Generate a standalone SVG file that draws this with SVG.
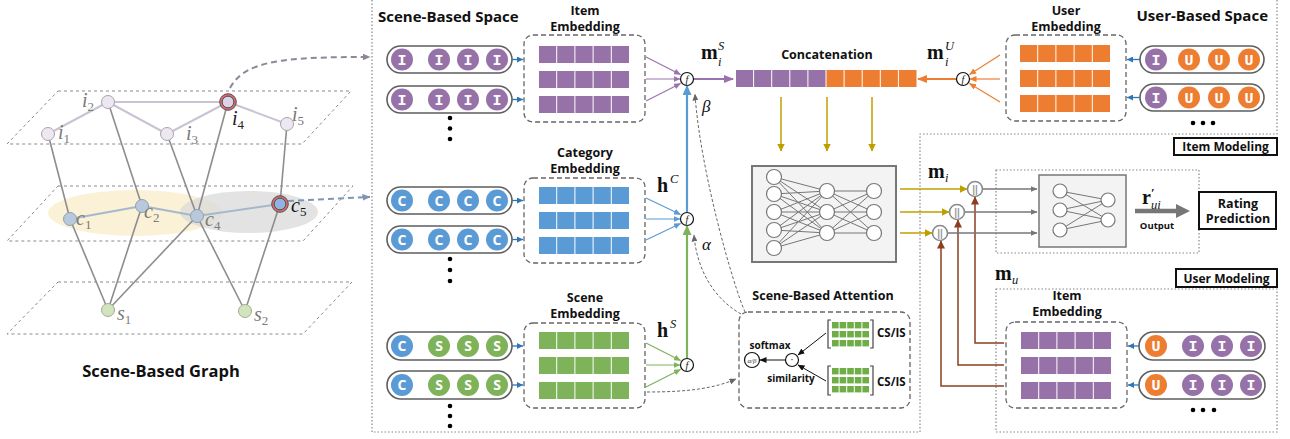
<svg xmlns="http://www.w3.org/2000/svg" xmlns:xlink="http://www.w3.org/1999/xlink" width="1290" height="439" viewBox="0 0 1290 439">
<style>
.bt{font-family:"Open Sans","Noto Sans",sans-serif;font-weight:700;fill:#111}
.t13{font-size:12.5px;text-anchor:middle}
.tk{font-family:"Liberation Mono","DejaVu Sans Mono",monospace;font-weight:700;font-size:15px;fill:#fff;text-anchor:middle}
.tks{font-family:"Open Sans","Noto Sans",sans-serif;font-weight:700;font-size:14px;fill:#fff;text-anchor:middle}
.math{font-family:"Liberation Serif","DejaVu Serif",serif}
.mb{font-family:"Liberation Serif","DejaVu Serif",serif;font-weight:700;font-size:20px;fill:#111}
.mi{font-family:"Liberation Serif","DejaVu Serif",serif;font-style:italic;font-size:12.5px;fill:#111}
.gl{font-family:"Liberation Serif","DejaVu Serif",serif;font-style:italic;font-size:20px;fill:#7a7a7a}
.gs{font-size:13px;font-style:normal}
.pill{fill:#fff;stroke:#5e5e5e;stroke-width:1.6}
.emb{fill:#fff;stroke:#666;stroke-width:1.3;stroke-dasharray:5,3}
.fc{fill:#fff;stroke:#111;stroke-width:1.2}
.fx{font-family:"Liberation Serif",serif;font-style:italic;font-size:10px;fill:#111;text-anchor:middle}
.plane{fill:none;stroke:#8a8a8a;stroke-width:1;stroke-dasharray:3,3}
.eI{stroke:#cbc3d3;stroke-width:2}
.eC{stroke:#a6b8cc;stroke-width:2}
.eX{stroke:#8d8d8d;stroke-width:1.6}
.nI{fill:#ede7f2;stroke:#a9a3ad;stroke-width:1}
.nC{fill:#b7c9db;stroke:#8fa0b3;stroke-width:1}
.nS{fill:#d2e3bd;stroke:#9fae92;stroke-width:1}
.frame{fill:none;stroke:#888;stroke-width:1.2;stroke-dasharray:1.5,2}
.nn{fill:#fff;stroke:#777;stroke-width:1.2}
.nl{stroke:#777;stroke-width:1}
.cc{fill:#fff;stroke:#8a8a8a;stroke-width:1.6}
.ccx{font-family:"Liberation Sans",sans-serif;font-size:10px;font-weight:700;fill:#999;text-anchor:middle}
.lbl{fill:#fff;stroke:#111;stroke-width:2}
</style>
<defs>
<marker id="mPur" markerWidth="7" markerHeight="6" refX="6.5" refY="3" orient="auto" markerUnits="userSpaceOnUse"><path d="M0,0 L7,3 L0,6z" fill="#9b72b0"/></marker>
<marker id="mPurB" markerWidth="10" markerHeight="8" refX="9" refY="4" orient="auto" markerUnits="userSpaceOnUse"><path d="M0,0 L10,4 L0,8z" fill="#9b72b0"/></marker>
<marker id="mBlu" markerWidth="7" markerHeight="6" refX="6.5" refY="3" orient="auto" markerUnits="userSpaceOnUse"><path d="M0,0 L7,3 L0,6z" fill="#5b9bd5"/></marker>
<marker id="mBluB" markerWidth="10" markerHeight="9" refX="9" refY="4.5" orient="auto" markerUnits="userSpaceOnUse"><path d="M0,0 L10,4.5 L0,9z" fill="#5b9bd5"/></marker>
<marker id="mGrn" markerWidth="7" markerHeight="6" refX="6.5" refY="3" orient="auto" markerUnits="userSpaceOnUse"><path d="M0,0 L7,3 L0,6z" fill="#7eb35a"/></marker>
<marker id="mGrnB" markerWidth="10" markerHeight="9" refX="9" refY="4.5" orient="auto" markerUnits="userSpaceOnUse"><path d="M0,0 L10,4.5 L0,9z" fill="#7eb35a"/></marker>
<marker id="mOra" markerWidth="7" markerHeight="6" refX="6.5" refY="3" orient="auto" markerUnits="userSpaceOnUse"><path d="M0,0 L7,3 L0,6z" fill="#ed7d31"/></marker>
<marker id="mOraB" markerWidth="10" markerHeight="8" refX="9" refY="4" orient="auto" markerUnits="userSpaceOnUse"><path d="M0,0 L10,4 L0,8z" fill="#ed7d31"/></marker>
<marker id="mTok" markerWidth="6" markerHeight="6" refX="6" refY="3" orient="auto" markerUnits="userSpaceOnUse"><path d="M0,0 L6,3 L0,6z" fill="#2e75b6"/></marker>
<marker id="mYel" markerWidth="8" markerHeight="8" refX="7.5" refY="4" orient="auto" markerUnits="userSpaceOnUse"><path d="M0,0 L8,4 L0,8z" fill="#bf9f00"/></marker>
<marker id="mBrn" markerWidth="8" markerHeight="8" refX="7.5" refY="4" orient="auto" markerUnits="userSpaceOnUse"><path d="M0,0 L8,4 L0,8z" fill="#8c3f20"/></marker>
<marker id="mGry" markerWidth="7" markerHeight="6" refX="6.5" refY="3" orient="auto" markerUnits="userSpaceOnUse"><path d="M0,0 L7,3 L0,6z" fill="#777"/></marker>
<marker id="mBlk" markerWidth="7" markerHeight="6" refX="6.5" refY="3" orient="auto" markerUnits="userSpaceOnUse"><path d="M0,0 L7,3 L0,6z" fill="#111"/></marker>
<marker id="mDsh" markerWidth="7" markerHeight="6" refX="6.5" refY="3" orient="auto" markerUnits="userSpaceOnUse"><path d="M0,0 L7,3 L0,6z" fill="#666"/></marker>
<marker id="mI4" markerWidth="8" markerHeight="7" refX="7.5" refY="3.5" orient="auto" markerUnits="userSpaceOnUse"><path d="M0,0 L8,3.5 L0,7z" fill="#8f8799"/></marker>
<marker id="mC5" markerWidth="8" markerHeight="7" refX="7.5" refY="3.5" orient="auto" markerUnits="userSpaceOnUse"><path d="M0,0 L8,3.5 L0,7z" fill="#7d96b8"/></marker>
<g id="bar"><rect x="0" width="17.2" height="17"/><rect x="18.2" width="17.2" height="17"/><rect x="36.4" width="17.2" height="17"/><rect x="54.6" width="17.2" height="17"/><rect x="72.8" width="17.2" height="17"/></g>
<g id="mrow"><rect x="0" width="6.6" height="6.4"/><rect x="7.6" width="6.6" height="6.4"/><rect x="15.2" width="6.6" height="6.4"/><rect x="22.8" width="6.6" height="6.4"/><rect x="30.4" width="6.6" height="6.4"/></g>
<g id="mini" fill="#70ad47"><use href="#mrow"/><use href="#mrow" y="9"/><use href="#mrow" y="18"/></g>
<g id="tI"><circle r="11" fill="#9672a8"/><text class="tk" y="5">I</text></g>
<g id="tU"><circle r="11" fill="#ed7d31"/><text class="tk" y="5">U</text></g>
<g id="tC"><circle r="11" fill="#5b9bd5"/><text class="tks" y="5">C</text></g>
<g id="tS"><circle r="11" fill="#7eb35a"/><text class="tks" y="5">S</text></g>
</defs>
<rect width="1290" height="439" fill="#fff"/>

<!-- frames -->
<g id="frames">
<path class="frame" d="M372,0 V432 H920 V134 H1277 V0"/>
<rect class="frame" x="996" y="170" width="203" height="83"/>
<rect class="frame" x="996" y="289" width="281" height="143"/>
</g>

<!-- Scene-based graph -->
<g id="scene-graph">
<polygon class="plane" points="58,91 351,91 302,144 7,144"/>
<polygon class="plane" points="58,186 353,186 303,241 7,241"/>
<polygon class="plane" points="58,282 352,282 303,334 7,334"/>
<ellipse cx="135" cy="213" rx="87" ry="23" fill="#fbefd2" opacity="0.9"/>
<ellipse cx="249" cy="212" rx="69" ry="21" fill="#d9d9d9" opacity="0.75"/>
<line class="eX" x1="48" y1="134" x2="70" y2="219"/>
<line class="eX" x1="108" y1="102" x2="142" y2="206"/>
<line class="eX" x1="167" y1="134" x2="197" y2="216"/>
<line class="eX" x1="228" y1="102" x2="197" y2="216"/>
<line class="eX" x1="287" y1="124" x2="280" y2="204"/>
<line class="eX" x1="70" y1="219" x2="108" y2="310"/>
<line class="eX" x1="142" y1="206" x2="108" y2="310"/>
<line class="eX" x1="197" y1="216" x2="108" y2="310"/>
<line class="eX" x1="197" y1="216" x2="245" y2="311"/>
<line class="eX" x1="280" y1="204" x2="245" y2="311"/>
<line class="eI" x1="48" y1="134" x2="108" y2="102"/>
<line class="eI" x1="108" y1="102" x2="228" y2="102"/>
<line class="eI" x1="108" y1="102" x2="167" y2="134"/>
<line class="eI" x1="167" y1="134" x2="228" y2="102"/>
<line class="eI" x1="228" y1="102" x2="287" y2="124"/>
<line class="eC" x1="70" y1="219" x2="142" y2="206"/>
<line class="eC" x1="142" y1="206" x2="197" y2="216"/>
<line class="eC" x1="197" y1="216" x2="280" y2="204"/>
<circle class="nI" cx="48" cy="134" r="6.5"/>
<circle class="nI" cx="108" cy="102" r="6.5"/>
<circle class="nI" cx="167" cy="134" r="6.5"/>
<circle class="nI" cx="287" cy="124" r="6.5"/>
<circle cx="228" cy="102" r="8.3" fill="#d9666c" stroke="#555" stroke-width="1"/>
<circle cx="228" cy="102" r="5.8" fill="#ded3e6" stroke="#555" stroke-width="1"/>
<circle class="nC" cx="70" cy="219" r="6.5"/>
<circle class="nC" cx="142" cy="206" r="6.5"/>
<circle class="nC" cx="197" cy="216" r="6.5"/>
<circle cx="280" cy="204" r="8.3" fill="#d9666c" stroke="#555" stroke-width="1"/>
<circle cx="280" cy="204" r="5.8" fill="#8fb4e3" stroke="#555" stroke-width="1"/>
<circle class="nS" cx="108" cy="310" r="6.5"/>
<circle class="nS" cx="245" cy="311" r="6.5"/>
<text class="gl" x="58" y="139">i<tspan class="gs" dy="4">1</tspan></text>
<text class="gl" x="82" y="107">i<tspan class="gs" dy="4">2</tspan></text>
<text class="gl" x="186" y="140">i<tspan class="gs" dy="4">3</tspan></text>
<text class="gl" x="232" y="125" style="fill:#222">i<tspan class="gs" dy="4">4</tspan></text>
<text class="gl" x="292" y="121">i<tspan class="gs" dy="4">5</tspan></text>
<text class="gl" x="76" y="225">c<tspan class="gs" dy="4">1</tspan></text>
<text class="gl" x="144" y="218">c<tspan class="gs" dy="4">2</tspan></text>
<text class="gl" x="205" y="226">c<tspan class="gs" dy="4">4</tspan></text>
<text class="gl" x="291" y="212" style="fill:#111">c<tspan class="gs" dy="4">5</tspan></text>
<text class="gl" x="117" y="320">s<tspan class="gs" dy="4">1</tspan></text>
<text class="gl" x="254" y="321">s<tspan class="gs" dy="4">2</tspan></text>
<text class="bt" x="161" y="377" font-size="16.5" text-anchor="middle">Scene-Based Graph</text>
</g>

<!-- titles -->
<g id="titles">
<text class="bt" x="378" y="22" font-size="15">Scene-Based Space</text>
<text class="bt" x="1268" y="21" font-size="15" text-anchor="end">User-Based Space</text>
</g>

<!-- item sequences (scene space) -->
<g id="item-seq">
<rect class="pill" x="387" y="46" width="125" height="27" rx="13.5"/>
<use href="#tI" x="402" y="59.5"/><use href="#tI" x="439" y="59.5"/><use href="#tI" x="468" y="59.5"/><use href="#tI" x="497" y="59.5"/>
<rect class="pill" x="387" y="86" width="125" height="27" rx="13.5"/>
<use href="#tI" x="402" y="99.5"/><use href="#tI" x="439" y="99.5"/><use href="#tI" x="468" y="99.5"/><use href="#tI" x="497" y="99.5"/>
<circle cx="450" cy="118" r="2.3"/><circle cx="450" cy="128.5" r="2.3"/><circle cx="450" cy="139" r="2.3"/>
</g>
<g id="cat-seq">
<rect class="pill" x="387" y="187" width="125" height="27" rx="13.5"/>
<use href="#tC" x="402" y="200.5"/><use href="#tC" x="439" y="200.5"/><use href="#tC" x="468" y="200.5"/><use href="#tC" x="497" y="200.5"/>
<rect class="pill" x="387" y="226" width="125" height="27" rx="13.5"/>
<use href="#tC" x="402" y="239.5"/><use href="#tC" x="439" y="239.5"/><use href="#tC" x="468" y="239.5"/><use href="#tC" x="497" y="239.5"/>
<circle cx="450" cy="259" r="2.3"/><circle cx="450" cy="270" r="2.3"/><circle cx="450" cy="281" r="2.3"/>
</g>
<g id="scene-seq">
<rect class="pill" x="387" y="332" width="125" height="28" rx="14"/>
<use href="#tC" x="402" y="346"/><use href="#tS" x="439" y="346"/><use href="#tS" x="468" y="346"/><use href="#tS" x="497" y="346"/>
<rect class="pill" x="387" y="371" width="125" height="28" rx="14"/>
<use href="#tC" x="402" y="385"/><use href="#tS" x="439" y="385"/><use href="#tS" x="468" y="385"/><use href="#tS" x="497" y="385"/>
<circle cx="450" cy="406" r="2.3"/><circle cx="450" cy="416" r="2.3"/><circle cx="450" cy="426" r="2.3"/>
</g>

<!-- embeddings -->
<g id="item-emb">
<text class="bt t13" x="585" y="15">Item</text>
<text class="bt t13" x="585" y="31">Embedding</text>
<rect class="emb" x="524" y="35" width="121" height="87" rx="9"/>
<use href="#bar" x="539" y="46" fill="#9672a8"/><use href="#bar" x="539" y="71" fill="#9672a8"/><use href="#bar" x="539" y="96" fill="#9672a8"/>
</g>
<g id="cat-emb">
<text class="bt t13" x="585" y="157">Category</text>
<text class="bt t13" x="585" y="173">Embedding</text>
<rect class="emb" x="524" y="178" width="121" height="85" rx="9"/>
<use href="#bar" x="539" y="187" fill="#5b9bd5"/><use href="#bar" x="539" y="212" fill="#5b9bd5"/><use href="#bar" x="539" y="237" fill="#5b9bd5"/>
</g>
<g id="scene-emb">
<text class="bt t13" x="585" y="302">Scene</text>
<text class="bt t13" x="585" y="318">Embedding</text>
<rect class="emb" x="524" y="323" width="121" height="85" rx="9"/>
<use href="#bar" x="539" y="332" fill="#7eb35a"/><use href="#bar" x="539" y="357" fill="#7eb35a"/><use href="#bar" x="539" y="382" fill="#7eb35a"/>
</g>
<g id="user-emb">
<text class="bt t13" x="1066" y="15">User</text>
<text class="bt t13" x="1066" y="31">Embedding</text>
<rect class="emb" x="1006" y="35" width="120" height="86" rx="9"/>
<use href="#bar" x="1020" y="45" fill="#ed7d31"/><use href="#bar" x="1020" y="70" fill="#ed7d31"/><use href="#bar" x="1020" y="95" fill="#ed7d31"/>
</g>
<g id="user-seq">
<rect class="pill" x="1140" y="46" width="124" height="27" rx="13.5"/>
<use href="#tI" x="1156" y="59.5"/><use href="#tU" x="1189" y="59.5"/><use href="#tU" x="1219" y="59.5"/><use href="#tU" x="1249" y="59.5"/>
<rect class="pill" x="1140" y="84" width="124" height="27" rx="13.5"/>
<use href="#tI" x="1156" y="97.5"/><use href="#tU" x="1189" y="97.5"/><use href="#tU" x="1219" y="97.5"/><use href="#tU" x="1249" y="97.5"/>
<circle cx="1193" cy="123" r="2.3"/><circle cx="1203" cy="123" r="2.3"/><circle cx="1213" cy="123" r="2.3"/>
</g>

<!-- f nodes -->
<g id="f-nodes">
<circle class="fc" cx="687" cy="79" r="6.5"/><text class="fx" x="687" y="82.5">f</text>
<circle class="fc" cx="687" cy="219" r="6.5"/><text class="fx" x="687" y="222.5">f</text>
<circle class="fc" cx="687" cy="365" r="6.5"/><text class="fx" x="687" y="368.5">f</text>
<circle class="fc" cx="963" cy="79" r="6.5"/><text class="fx" x="963" y="82.5">f</text>
</g>

<!-- concatenation -->
<g id="concat">
<text class="bt t13" x="827" y="59">Concatenation</text>
<g fill="#9672a8"><rect x="736" y="70" width="17.1" height="17"/><rect x="754.1" y="70" width="17.1" height="17"/><rect x="772.2" y="70" width="17.1" height="17"/><rect x="790.3" y="70" width="17.1" height="17"/><rect x="808.4" y="70" width="17.1" height="17"/></g>
<g fill="#ed7d31"><rect x="826.5" y="70" width="17.1" height="17"/><rect x="844.6" y="70" width="17.1" height="17"/><rect x="862.7" y="70" width="17.1" height="17"/><rect x="880.8" y="70" width="17.1" height="17"/><rect x="898.9" y="70" width="17.6" height="17"/></g>
</g>

<!-- math labels -->
<g id="math-labels" class="math">
<text class="mb" x="701" y="59">m</text><text class="mi" x="718" y="50">S</text><text class="mi" x="718" y="66">i</text>
<text class="mb" x="927" y="59">m</text><text class="mi" x="945" y="50">U</text><text class="mi" x="945" y="66">i</text>
<text class="mb" x="657" y="192">h</text><text class="mi" x="670" y="183">C</text>
<text class="mb" x="657" y="337">h</text><text class="mi" x="670" y="328">S</text>
<text x="702" y="112" font-style="italic" font-size="17" fill="#111">β</text>
<text x="702" y="250" font-style="italic" font-size="17" fill="#111">α</text>
<text class="mb" x="928" y="178">m</text><text class="mi" x="945" y="182">i</text>
<text class="mb" x="995" y="280">m</text><text class="mi" x="1012" y="284">u</text>
<text class="mb" x="1142" y="204">r<tspan font-size="13" dy="-7">′</tspan><tspan class="mi" font-weight="400" x="1151" dy="12">ui</tspan></text>
</g>

<!-- MLP -->
<g id="mlp">
<rect x="752" y="166" width="144" height="96" fill="#f3f3f3" stroke="#777" stroke-width="2"/>
<g class="nl">
<line x1="774" y1="177" x2="827" y2="191"/><line x1="774" y1="177" x2="827" y2="212"/><line x1="774" y1="177" x2="827" y2="233"/>
<line x1="774" y1="194" x2="827" y2="191"/><line x1="774" y1="194" x2="827" y2="212"/><line x1="774" y1="194" x2="827" y2="233"/>
<line x1="774" y1="212" x2="827" y2="191"/><line x1="774" y1="212" x2="827" y2="212"/><line x1="774" y1="212" x2="827" y2="233"/>
<line x1="774" y1="230" x2="827" y2="191"/><line x1="774" y1="230" x2="827" y2="212"/><line x1="774" y1="230" x2="827" y2="233"/>
<line x1="774" y1="248" x2="827" y2="191"/><line x1="774" y1="248" x2="827" y2="212"/><line x1="774" y1="248" x2="827" y2="233"/>
<line x1="827" y1="191" x2="874" y2="191"/><line x1="827" y1="191" x2="874" y2="212"/><line x1="827" y1="191" x2="874" y2="233"/>
<line x1="827" y1="212" x2="874" y2="191"/><line x1="827" y1="212" x2="874" y2="212"/><line x1="827" y1="212" x2="874" y2="233"/>
<line x1="827" y1="233" x2="874" y2="191"/><line x1="827" y1="233" x2="874" y2="212"/><line x1="827" y1="233" x2="874" y2="233"/>
</g>
<circle class="nn" cx="774" cy="177" r="7.5"/><circle class="nn" cx="774" cy="194" r="7.5"/><circle class="nn" cx="774" cy="212" r="7.5"/><circle class="nn" cx="774" cy="230" r="7.5"/><circle class="nn" cx="774" cy="248" r="7.5"/>
<circle class="nn" cx="827" cy="191" r="7.5"/><circle class="nn" cx="827" cy="212" r="7.5"/><circle class="nn" cx="827" cy="233" r="7.5"/>
<circle class="nn" cx="874" cy="191" r="7.5"/><circle class="nn" cx="874" cy="212" r="7.5"/><circle class="nn" cx="874" cy="233" r="7.5"/>
</g>

<!-- concat ops -->
<g id="concat-ops">
<circle class="cc" cx="975" cy="189" r="7.5"/><text class="ccx" x="975" y="192.5">||</text>
<circle class="cc" cx="957" cy="212" r="7.5"/><text class="ccx" x="957" y="215.5">||</text>
<circle class="cc" cx="940" cy="233" r="7.5"/><text class="ccx" x="940" y="236.5">||</text>
</g>

<!-- rating NN -->
<g id="rating-nn">
<rect x="1039" y="175" width="87" height="72" fill="#f3f3f3" stroke="#777" stroke-width="1.5"/>
<g class="nl">
<line x1="1060" y1="191" x2="1108" y2="200"/><line x1="1060" y1="191" x2="1108" y2="220"/>
<line x1="1060" y1="210" x2="1108" y2="200"/><line x1="1060" y1="210" x2="1108" y2="220"/>
<line x1="1060" y1="230" x2="1108" y2="200"/><line x1="1060" y1="230" x2="1108" y2="220"/>
</g>
<circle class="nn" cx="1060" cy="191" r="7"/><circle class="nn" cx="1060" cy="210" r="7"/><circle class="nn" cx="1060" cy="230" r="7"/>
<circle class="nn" cx="1108" cy="200" r="7"/><circle class="nn" cx="1108" cy="220" r="7"/>
</g>
<g id="rating-prediction">
<rect class="lbl" x="1199" y="192" width="77" height="37"/>
<text class="bt t13" x="1238" y="208">Rating</text>
<text class="bt t13" x="1238" y="223">Prediction</text>
<text class="bt" x="1157" y="229" font-size="9.5" text-anchor="middle">Output</text>
</g>
<g id="item-modeling-label">
<rect class="lbl" x="1174" y="138" width="103" height="17"/>
<text class="bt" x="1225.5" y="151" font-size="12" text-anchor="middle">Item Modeling</text>
</g>
<g id="user-modeling-label">
<rect class="lbl" x="1176" y="269" width="101" height="18"/>
<text class="bt" x="1226.5" y="282.5" font-size="12" text-anchor="middle">User Modeling</text>
</g>

<!-- user modeling -->
<g id="um-item-emb">
<text class="bt t13" x="1067" y="300">Item</text>
<text class="bt t13" x="1067" y="316">Embedding</text>
<rect class="emb" x="1006" y="322" width="121" height="86" rx="9"/>
<use href="#bar" x="1021" y="332" fill="#9672a8"/><use href="#bar" x="1021" y="357" fill="#9672a8"/><use href="#bar" x="1021" y="382" fill="#9672a8"/>
</g>
<g id="um-seq">
<rect class="pill" x="1139" y="332" width="126" height="28" rx="14"/>
<use href="#tU" x="1156" y="346"/><use href="#tI" x="1193" y="346"/><use href="#tI" x="1222" y="346"/><use href="#tI" x="1251" y="346"/>
<rect class="pill" x="1139" y="371" width="126" height="28" rx="14"/>
<use href="#tU" x="1156" y="385"/><use href="#tI" x="1193" y="385"/><use href="#tI" x="1222" y="385"/><use href="#tI" x="1251" y="385"/>
<circle cx="1193" cy="410" r="2.3"/><circle cx="1203" cy="410" r="2.3"/><circle cx="1214" cy="410" r="2.3"/>
</g>

<!-- attention -->
<g id="attention">
<text class="bt t13" x="823" y="300">Scene-Based Attention</text>
<rect class="emb" x="739" y="312" width="171" height="96" rx="9"/>
<use href="#mini" x="832" y="322"/>
<use href="#mini" x="832" y="368"/>
<path d="M831,320 H828 V348 H831 M870,320 H873 V348 H870 M831,366 H828 V395 H831 M870,366 H873 V395 H870" fill="none" stroke="#444" stroke-width="1.2"/>
<text class="bt" x="877" y="337" font-size="11.5">CS/IS</text>
<text class="bt" x="877" y="386" font-size="11.5">CS/IS</text>
<circle class="fc" cx="792" cy="360" r="6.5"/><text x="792" y="363" font-family="Liberation Sans,sans-serif" font-size="10" text-anchor="middle" fill="#111">·</text>
<circle class="fc" cx="752" cy="360" r="7.5"/><text x="752" y="362.5" font-family="Liberation Serif,serif" font-style="italic" font-size="7" text-anchor="middle" fill="#333">α/β</text>
<text class="bt" x="770" y="349" font-size="10" text-anchor="middle">softmax</text>
<text class="bt" x="791" y="382" font-size="10" text-anchor="middle">similarity</text>
</g>

<!-- connectors -->
<g id="connectors" fill="none">
<path d="M230,88 C245,60 285,57 370,57" stroke="#8f8799" stroke-width="2" stroke-dasharray="6,4" marker-end="url(#mI4)"/>
<path d="M288,201 L370,197" stroke="#7d96b8" stroke-width="2" stroke-dasharray="6,4" marker-end="url(#mC5)"/>
<g stroke="#2e75b6" stroke-width="1.3">
<line x1="512" y1="59.5" x2="523" y2="59.5" marker-end="url(#mTok)"/>
<line x1="512" y1="99.5" x2="523" y2="99.5" marker-end="url(#mTok)"/>
<line x1="512" y1="200.5" x2="523" y2="200.5" marker-end="url(#mTok)"/>
<line x1="512" y1="239.5" x2="523" y2="239.5" marker-end="url(#mTok)"/>
<line x1="512" y1="346" x2="523" y2="346" marker-end="url(#mTok)"/>
<line x1="512" y1="385" x2="523" y2="385" marker-end="url(#mTok)"/>
<line x1="1140" y1="59.5" x2="1127" y2="59.5" marker-end="url(#mTok)"/>
<line x1="1140" y1="97.5" x2="1127" y2="97.5" marker-end="url(#mTok)"/>
<line x1="1139" y1="346" x2="1128" y2="346" marker-end="url(#mTok)"/>
<line x1="1139" y1="385" x2="1128" y2="385" marker-end="url(#mTok)"/>
</g>
<g stroke="#9b72b0" stroke-width="1.2">
<line x1="646" y1="57" x2="680.5" y2="74.5" marker-end="url(#mPur)"/>
<line x1="646" y1="79" x2="680" y2="79" marker-end="url(#mPur)"/>
<line x1="646" y1="101" x2="680.5" y2="83.5" marker-end="url(#mPur)"/>
</g>
<line x1="694" y1="79" x2="733" y2="79" stroke="#9b72b0" stroke-width="2" marker-end="url(#mPurB)"/>
<g stroke="#5b9bd5" stroke-width="1.2">
<line x1="646" y1="198" x2="680.5" y2="214.5" marker-end="url(#mBlu)"/>
<line x1="646" y1="219" x2="680" y2="219" marker-end="url(#mBlu)"/>
<line x1="646" y1="240" x2="680.5" y2="223.5" marker-end="url(#mBlu)"/>
</g>
<line x1="687" y1="212" x2="687" y2="86" stroke="#5b9bd5" stroke-width="2.2" marker-end="url(#mBluB)"/>
<g stroke="#7eb35a" stroke-width="1.2">
<line x1="646" y1="343" x2="680.5" y2="360.5" marker-end="url(#mGrn)"/>
<line x1="646" y1="365" x2="680" y2="365" marker-end="url(#mGrn)"/>
<line x1="646" y1="387" x2="680.5" y2="369.5" marker-end="url(#mGrn)"/>
</g>
<line x1="687" y1="358" x2="687" y2="226" stroke="#7eb35a" stroke-width="2.2" marker-end="url(#mGrnB)"/>
<g stroke="#ed7d31" stroke-width="1.2">
<line x1="1000" y1="55" x2="969.5" y2="74.5" marker-end="url(#mOra)"/>
<line x1="1000" y1="79" x2="970" y2="79" marker-end="url(#mOra)"/>
<line x1="1000" y1="102" x2="969.5" y2="83.5" marker-end="url(#mOra)"/>
</g>
<line x1="956" y1="79" x2="918" y2="79" stroke="#ed7d31" stroke-width="2" marker-end="url(#mOraB)"/>
<g stroke="#666" stroke-width="1" stroke-dasharray="3,2">
<path d="M745,312 C733,285 700,170 695,94" marker-end="url(#mDsh)"/>
<path d="M741,314 C716,300 697,272 694,235" marker-end="url(#mDsh)"/>
<path d="M647,392 C690,392 715,388 736,379" marker-end="url(#mDsh)"/>
</g>
<g stroke="#111" stroke-width="1">
<line x1="826" y1="333" x2="798" y2="355" marker-end="url(#mBlk)"/>
<line x1="826" y1="381" x2="798" y2="365" marker-end="url(#mBlk)"/>
<line x1="785" y1="360" x2="760" y2="360" marker-end="url(#mBlk)"/>
</g>
<g stroke="#bf9f00" stroke-width="1.5">
<line x1="781" y1="97" x2="781" y2="151" marker-end="url(#mYel)"/>
<line x1="827" y1="97" x2="827" y2="151" marker-end="url(#mYel)"/>
<line x1="872" y1="97" x2="872" y2="151" marker-end="url(#mYel)"/>
<line x1="900" y1="189" x2="967" y2="189" marker-end="url(#mYel)"/>
<line x1="900" y1="212" x2="949" y2="212" marker-end="url(#mYel)"/>
<line x1="900" y1="233" x2="932" y2="233" marker-end="url(#mYel)"/>
</g>
<g stroke="#8c3f20" stroke-width="1.5">
<path d="M1004,343 H975 V197" marker-end="url(#mBrn)"/>
<path d="M1004,365 H958 V220" marker-end="url(#mBrn)"/>
<path d="M1004,386 H941 V241" marker-end="url(#mBrn)"/>
</g>
<g stroke="#777" stroke-width="1.5">
<line x1="983" y1="189" x2="1037" y2="189" marker-end="url(#mGry)"/>
<line x1="965" y1="212" x2="1037" y2="212" marker-end="url(#mGry)"/>
<line x1="948" y1="233" x2="1037" y2="233" marker-end="url(#mGry)"/>
</g>
<line x1="1135" y1="211" x2="1177" y2="211" stroke="#777" stroke-width="4.5"/>
<polygon points="1176,204 1190,211 1176,218" fill="#777"/>
</g>
</svg>
